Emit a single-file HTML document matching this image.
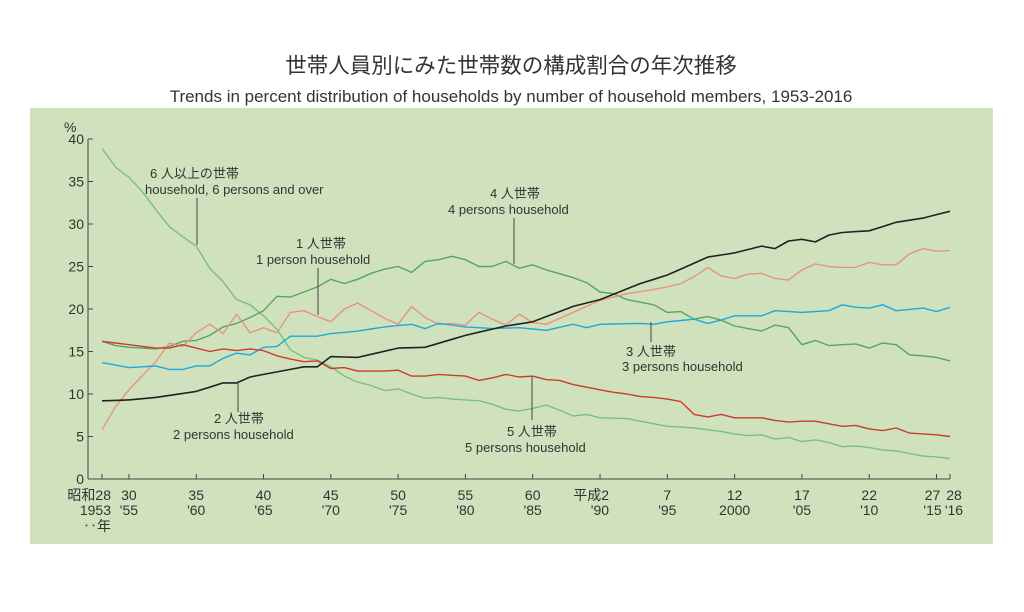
<!DOCTYPE html>
<html><head><meta charset="utf-8"><style>
body{margin:0;background:#fff;width:1024px;height:607px;overflow:hidden}
svg text{font-family:"Liberation Sans","Noto Sans CJK JP",sans-serif;fill:#333}
</style></head><body>
<svg id="s" width="1024" height="607" xmlns="http://www.w3.org/2000/svg">
<text x="511" y="73" font-size="21.5" text-anchor="middle" fill="#222">世帯人員別にみた世帯数の構成割合の年次推移</text>
<text x="511" y="102" font-size="17" text-anchor="middle">Trends in percent distribution of households by number of household members, 1953-2016</text>
<rect x="30" y="108" width="963" height="436" fill="#d0e2bd"/>
<g id="ax" stroke="#444" stroke-width="1" fill="none"></g>
<g id="lab" font-size="14"></g>
<g id="ser" fill="none" stroke-width="1.4" stroke-linejoin="round"></g>
<g stroke="#444" stroke-width="1">
<line x1="197" y1="198" x2="197" y2="245"/>
<line x1="318" y1="268" x2="318" y2="315"/>
<line x1="514" y1="218" x2="514" y2="264"/>
<line x1="238" y1="383" x2="238" y2="412"/>
<line x1="532" y1="376" x2="532" y2="420"/>
<line x1="651" y1="322" x2="651" y2="342"/>
</g>
<g font-size="13">
<text x="150" y="178">6 人以上の世帯</text>
<text x="145" y="194">household, 6 persons and over</text>
<text x="296" y="248">1 人世帯</text>
<text x="256" y="264">1 person household</text>
<text x="490" y="198">4 人世帯</text>
<text x="448" y="214">4 persons household</text>
<text x="214" y="423">2 人世帯</text>
<text x="173" y="439">2 persons household</text>
<text x="507" y="436">5 人世帯</text>
<text x="465" y="452">5 persons household</text>
<text x="626" y="356">3 人世帯</text>
<text x="622" y="371">3 persons household</text>
</g>
</svg>
<script>
var X=function(y){return 102+(y-1953)*13.46},Y=function(v){return 479-v*8.5};
var ns="http://www.w3.org/2000/svg";
function el(p,t,a,txt){var e=document.createElementNS(ns,t);for(var k in a)e.setAttribute(k,a[k]);if(txt!==undefined)e.textContent=txt;document.getElementById(p).appendChild(e);return e}
el('ax','line',{x1:88,y1:139,x2:88,y2:479});
el('ax','line',{x1:88,y1:479,x2:X(2016),y2:479});
for(var v=0;v<=40;v+=5){el('ax','line',{x1:88,y1:Y(v),x2:93,y2:Y(v)});el('lab','text',{x:84,y:Y(v)+5,'text-anchor':'end'},v)}
el('lab','text',{x:64,y:132},'%');
var ticks=[[1953,'昭和28','1953'],[1955,'30',"'55"],[1960,'35',"'60"],[1965,'40',"'65"],[1970,'45',"'70"],[1975,'50',"'75"],[1980,'55',"'80"],[1985,'60',"'85"],[1990,'平成2',"'90"],[1995,'7',"'95"],[2000,'12','2000'],[2005,'17',"'05"],[2010,'22',"'10"],[2015,'27',"'15"],[2016,'28',"'16"]];
ticks.forEach(function(t){var x=X(t[0]);el('ax','line',{x1:x,y1:479,x2:x,y2:474});
var dx=t[0]==2015?-4:(t[0]==2016?4:0);var anc=t[0]==1953||t[0]==1990?'end':'middle';var xx=anc=='end'?x+9:x+dx;
el('lab','text',{x:xx,y:500,'text-anchor':anc},t[1]);el('lab','text',{x:xx,y:515,'text-anchor':anc},t[2]);});
el('lab','text',{x:111,y:531,'text-anchor':'end'},'‥年');
function S(str,col,w){var a=str.trim().split(/[\s,]+/).map(Number),pts=[];for(var i=0;i<a.length;i+=2){var y=a[i];y=y<100?(y>=50?1900+y:2000+y):y;pts.push([y,a[i+1]])}
var out=[];for(var yr=1953;yr<=2016;yr++){var v;for(var j=0;j<pts.length-1;j++){if(yr>=pts[j][0]&&yr<=pts[j+1][0]){var f=(yr-pts[j][0])/(pts[j+1][0]-pts[j][0]);v=pts[j][1]+f*(pts[j+1][1]-pts[j][1]);break}}out.push(X(yr).toFixed(1)+','+Y(v).toFixed(1))}
el('ser','polyline',{points:out.join(' '),stroke:col,'stroke-width':w||1.4})}
S("53 38.9,54 36.7,55 35.5,56 33.8,57 31.7,58 29.7,59 28.5,60 27.4,61 24.8,62 23.2,63 21.1,64 20.5,65 19.2,66 17.6,67 15.2,68 14.3,69 14.0,70 13.2,71 12.1,72 11.4,73 11.0,74 10.4,75 10.6,76 10.0,77 9.5,78 9.6,79 9.4,80 9.3,81 9.2,82 8.8,83 8.2,84 8.0,85 8.3,86 8.7,87 8.1,88 7.4,89 7.6,90 7.2,92 7.1,93 6.8,94 6.5,95 6.2,97 6.0,98 5.8,99 5.6,2000 5.3,01 5.1,02 5.2,03 4.7,04 4.9,05 4.4,06 4.6,07 4.3,08 3.8,09 3.9,10 3.7,11 3.4,12 3.3,13 3.0,14 2.7,15 2.6,16 2.4","#79c07a");
S("53 16.2,54 15.7,55 15.5,57 15.3,58 15.6,59 16.2,60 16.3,61 16.9,62 17.9,63 18.3,64 19.0,65 19.8,66 21.5,67 21.4,68 22.0,69 22.6,70 23.5,71 23.0,72 23.5,73 24.2,74 24.7,75 25.0,76 24.3,77 25.6,78 25.8,79 26.2,80 25.8,81 25.0,82 25.0,83 25.6,84 24.8,85 25.2,86 24.6,88 23.7,89 23.1,90 22.0,91 21.8,92 21.1,93 20.8,94 20.5,95 19.6,96 19.7,97 18.8,98 19.1,99 18.7,2000 18.0,01 17.7,02 17.4,03 18.1,04 17.8,05 15.8,06 16.3,07 15.7,08 15.8,09 15.9,10 15.4,11 16.0,12 15.8,13 14.6,14 14.5,15 14.3,16 13.9","#55a560");
S("53 5.8,54 8.5,55 10.5,57 13.8,58 16.0,59 15.6,60 17.2,61 18.2,62 17.1,63 19.4,64 17.2,65 17.8,66 17.2,67 19.6,68 19.8,69 19.1,70 18.5,71 20.0,72 20.7,73 19.8,74 18.9,75 18.2,76 20.3,77 19.0,78 18.2,79 18.3,80 18.1,81 19.6,82 18.8,83 18.1,84 19.4,85 18.4,86 18.2,88 19.6,90 21.0,92 21.8,94 22.3,95 22.6,96 23.0,97 23.8,98 24.9,99 23.9,2000 23.6,01 24.1,02 24.2,03 23.6,04 23.4,05 24.6,06 25.3,07 25.0,08 24.9,09 24.9,10 25.5,11 25.2,12 25.2,13 26.5,14 27.1,15 26.8,16 26.9","#e8937c");
S("53 13.7,55 13.1,57 13.3,58 12.9,59 12.9,60 13.3,61 13.3,62 14.2,63 14.8,64 14.6,65 15.5,66 15.6,67 16.8,68 16.8,69 16.8,70 17.1,72 17.4,74 17.9,76 18.2,77 17.7,78 18.3,80 17.9,82 17.7,84 17.8,86 17.5,88 18.2,89 17.8,90 18.2,93 18.3,94 18.2,95 18.5,97 18.8,98 18.3,99 18.7,2000 19.2,02 19.2,03 19.8,05 19.6,07 19.8,08 20.5,09 20.2,10 20.1,11 20.5,12 19.8,14 20.1,15 19.7,16 20.2","#1ea8dc");
S("53 16.2,55 15.8,57 15.4,58 15.4,59 15.8,60 15.4,61 15.0,62 15.3,63 15.1,64 15.3,65 15.1,66 14.5,67 14.1,68 13.8,69 13.9,70 13.0,71 13.1,72 12.7,74 12.7,75 12.8,76 12.1,77 12.1,78 12.3,80 12.1,81 11.6,82 11.9,83 12.3,84 12.0,85 12.1,86 11.7,87 11.6,88 11.1,90 10.5,91 10.2,92 10.0,93 9.7,94 9.6,95 9.4,96 9.1,97 7.6,98 7.3,99 7.6,2000 7.2,02 7.2,03 6.9,04 6.7,05 6.8,06 6.8,07 6.5,08 6.2,09 6.3,10 5.9,11 5.7,12 6.0,13 5.4,14 5.3,15 5.2,16 5.0","#cc3b2e");
S("53 9.2,55 9.3,57 9.6,60 10.3,62 11.3,63 11.3,64 12.0,65 12.3,68 13.2,69 13.2,70 14.4,72 14.3,75 15.4,77 15.5,80 16.9,83 18.0,85 18.5,88 20.3,90 21.1,93 23.0,95 24.0,98 26.1,2000 26.6,2002 27.4,2003 27.1,2004 28.0,2005 28.2,2006 27.9,2007 28.7,2008 29.0,2010 29.2,2012 30.2,2014 30.7,2016 31.5","#222",1.6);
</script>
</body></html>
